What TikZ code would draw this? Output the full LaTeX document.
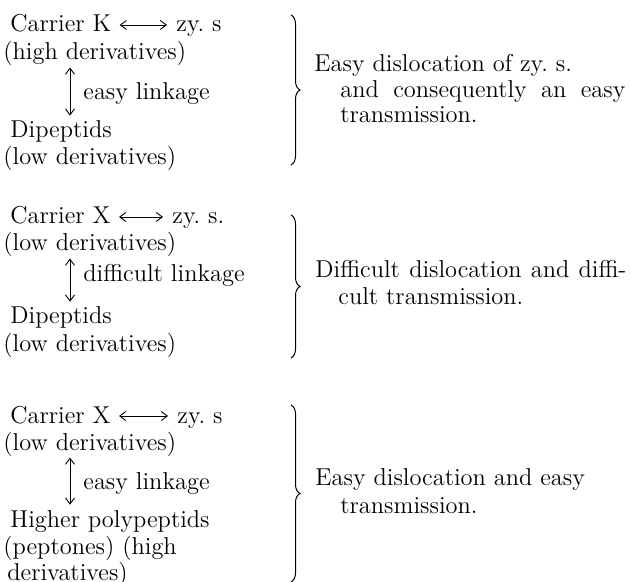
\documentclass[tikz,border=0pt]{standalone}
\usepackage{tikz}
\usetikzlibrary{positioning, arrows.meta, decorations.pathreplacing}

\newcommand{\txtsize}{\fontsize{12.2}{14}\selectfont}

\begin{document}
\begin{tikzpicture}[
  x=0.5pt, y=-0.5pt,
  every node/.style={font=\txtsize, inner sep=0pt, anchor=base west},
  harrow/.style={line width=0.45pt,
                 {Straight Barb[length=3pt,width=4.5pt]}-{Straight Barb[length=3pt,width=4.5pt]},
                 shorten <=4pt, shorten >=4.5pt},
  varrow/.style={line width=0.45pt,
                 {Straight Barb[length=3pt,width=4.5pt]}-{Straight Barb[length=3pt,width=4.5pt]},
                 shorten <=0.5pt, shorten >=2.5pt},
  brc/.style={decorate, decoration={brace, amplitude=4.5pt}, line width=0.5pt}
]
  \useasboundingbox (0,0) rectangle (631,582);

  % first case
  \node (ca1) at (10,32) {Carrier K};
  \node (zy1) at (176,32) {zy.\ s};
  \node (hd1) at (3,60) {(high derivatives)};
  \node (lk1) at (83,100) {easy linkage};
  \node (dp1) at (10,138) {Dipeptids};
  \node (ld1) at (3,165) {(low derivatives)};
  \coordinate (ax1) at (70,100);
  \draw[harrow] ([yshift=3.5pt]ca1.base east) -- ([yshift=3.5pt]zy1.base west);
  \draw[varrow] (ax1 |- hd1.south) -- (ax1 |- dp1.north);
  \coordinate (b1t) at (291,15);
  \coordinate (b1b) at (291,165);
  \draw[brc] (b1t) -- (b1b);
  \node (ez1) at (314,72) {Easy dislocation of zy.\ s.};
  \node (ez2) at (340,98) {\makebox[142.5pt][s]{and consequently an easy}};
  \node (ez3) at (340,123) {transmission.};

  % second case
  \node (ca2) at (10,224) {Carrier X};
  \node (zy2) at (172,224) {zy.\ s.};
  \node (hd2) at (3,251) {(low derivatives)};
  \node (lk2) at (83,282) {difficult linkage};
  \node (dp2) at (10,324) {Dipeptids};
  \node (ld2) at (3,351) {(low derivatives)};
  \coordinate (ax2) at (70,282);
  \draw[harrow] ([yshift=3.5pt]ca2.base east) -- ([yshift=3.5pt]zy2.base west);
  \draw[varrow] (ax2 |- hd2.south) -- (ax2 |- dp2.north);
  \coordinate (b2t) at (291,215);
  \coordinate (b2b) at (291,358);
  \draw[brc] (b2t) -- (b2b);
  \node (df1) at (315,278) {\makebox[155.5pt][s]{Difficult dislocation and diffi-}};
  \node (df2) at (338,305) {cult transmission.};

  % third case
  \node (ca3) at (10,423) {Carrier X};
  \node (zy3) at (177,423) {zy.\ s};
  \node (hd3) at (3,450) {(low derivatives)};
  \node (lk3) at (83,489) {easy linkage};
  \node (hp3) at (10,527) {Higher polypeptids};
  \node (pp3) at (3,554) {(peptones) (high};
  \node (dv3) at (7,580) {derivatives)};
  \coordinate (ax3) at (70,489);
  \draw[harrow] ([yshift=3.5pt]ca3.base east) -- ([yshift=3.5pt]zy3.base west);
  \draw[varrow] (ax3 |- hd3.south) -- (ax3 |- hp3.north);
  \coordinate (b3t) at (291,405);
  \coordinate (b3b) at (291,582);
  \draw[brc] (b3t) -- (b3b);
  \node (ea1) at (315,485) {Easy dislocation and easy};
  \node (ea2) at (340,513) {transmission.};
\end{tikzpicture}
\end{document}
